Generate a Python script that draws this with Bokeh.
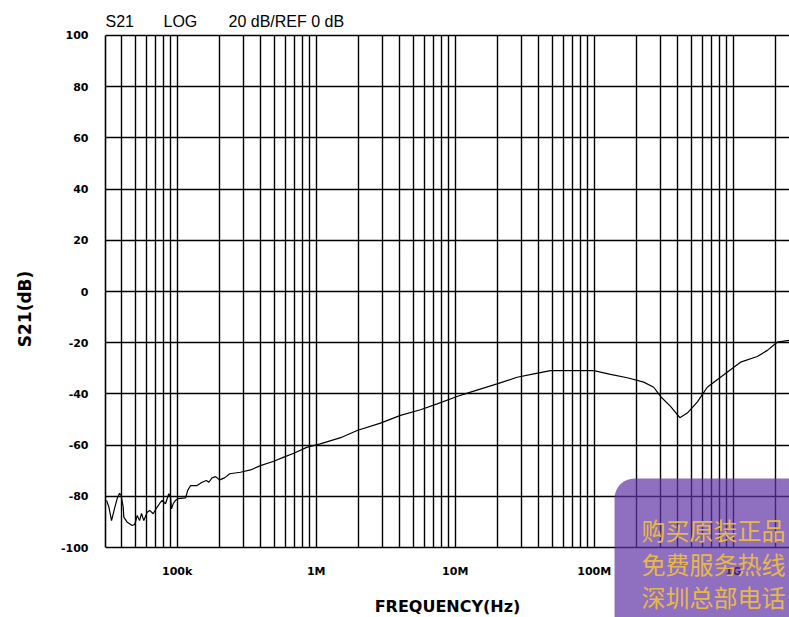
from bokeh.plotting import figure
from bokeh.models import FixedTicker, Label, Range1d
from bokeh.embed import file_html
from bokeh.resources import INLINE

# ---- data ----
freq_hz = [31e3, 32.2e3, 33.7e3, 35.4e3, 37.0e3, 38.5e3, 39.5e3, 40.9e3, 41.3e3, 43.7e3,
           47.5e3, 49.5e3, 51.6e3, 53.6e3, 55.4e3, 57.5e3, 60.8e3, 63.5e3, 67.2e3, 71.8e3,
           75.0e3, 78.0e3, 82.4e3, 87.0e3, 89.5e3, 91.0e3, 93.6e3, 97.2e3, 101e3, 115e3,
           119e3, 125e3, 139e3, 151e3, 162e3, 169e3, 178e3, 189e3, 202e3, 219e3,
           239e3, 285e3, 337e3, 397e3, 495e3, 585e3, 690e3, 862e3, 1.07e6, 1.50e6,
           1.97e6, 2.90e6, 4.04e6, 5.63e6, 7.42e6, 10.3e6, 12.9e6, 20.0e6, 27.9e6, 36.8e6,
           48.5e6, 99.3e6, 131e6, 173e6, 227e6, 268e6, 300e6, 354e6, 413e6, 467e6,
           551e6, 650e6, 810e6, 1.01e9, 1.13e9, 1.49e9, 1.76e9, 2.07e9, 2.54e9]
s21_db = [-81.6, -84.0, -89.5, -84.8, -80.9, -78.8, -79.7, -84.2, -88.1, -90.1,
          -91.4, -91.0, -87.5, -89.5, -86.7, -89.5, -86.2, -85.5, -86.8, -84.2,
          -82.7, -81.6, -82.9, -79.0, -80.3, -84.9, -82.9, -81.6, -80.9, -80.6,
          -77.7, -75.8, -75.8, -74.5, -73.8, -74.5, -72.8, -72.3, -73.6, -72.8,
          -71.2, -70.6, -69.7, -68.0, -66.3, -64.7, -63.2, -60.8, -59.5, -57.1,
          -54.3, -51.4, -48.4, -46.2, -43.9, -41.0, -39.3, -36.1, -33.5, -32.2,
          -30.9, -30.9, -32.4, -33.7, -35.4, -37.4, -41.0, -44.9, -49.3, -47.5,
          -43.2, -37.4, -33.5, -29.6, -27.6, -25.4, -23.0, -19.8, -19.1]

x_tick_values = [1e5, 1e6, 1e7, 1e8, 1e9]
x_tick_labels = ["100k", "1M", "10M", "100M", "1G"]
x_minor_mult = [2, 3, 4, 5, 6, 7, 8, 9]
x_decades = [1e4, 1e5, 1e6, 1e7, 1e8, 1e9]
y_tick_values = [-100, -80, -60, -40, -20, 0, 20, 40, 60, 80, 100]
y_tick_labels = ["-100", "-80", "-60", "-40", "-20", "0", "20", "40", "60", "80", "100"]
header_texts = ["S21", "LOG", "20 dB/REF 0 dB"]
watermark_lines = ["购买原装正品", "免费服务热线", "深圳总部电话"]

x_minor = [m * d for d in x_decades for m in x_minor_mult]

Y_MIN, Y_MAX = -100, 100
p = figure(width=789, height=617, x_axis_type="log",
           x_range=Range1d(30500, 2.54e9), y_range=Range1d(-127.34, 113.67),
           output_backend="svg", toolbar_location=None,
           min_border_left=105, min_border_right=0, min_border_top=0, min_border_bottom=0,
           background_fill_color="white", border_fill_color="white")
p.outline_line_color = None

xt = FixedTicker(ticks=x_tick_values, minor_ticks=x_minor)
yt = FixedTicker(ticks=y_tick_values, minor_ticks=[])
p.xaxis.ticker = xt
p.yaxis.ticker = yt
p.xgrid.ticker = xt
p.ygrid.ticker = yt
p.xaxis.major_label_overrides = {v: l for v, l in zip(x_tick_values, x_tick_labels)}
p.yaxis.major_label_overrides = {v: l for v, l in zip(y_tick_values, y_tick_labels)}

for g in (p.xgrid, p.ygrid):
    g.grid_line_color = "black"
    g.grid_line_width = 1.4
    g.grid_line_alpha = 1.0
p.xgrid.minor_grid_line_color = "black"
p.xgrid.minor_grid_line_width = 1.4
p.xgrid.cross_bounds = (Y_MIN, Y_MAX)

for ax in (p.xaxis, p.yaxis):
    ax.major_tick_line_color = None
    ax.minor_tick_line_color = None
    ax.major_label_text_font = "DejaVu Sans"
    ax.major_label_text_font_style = "bold"
    ax.major_label_text_font_size = "11px"
    ax.major_label_text_color = "black"
    ax.axis_label_text_font = "DejaVu Sans"
    ax.axis_label_text_font_style = "bold"
    ax.axis_label_text_color = "black"

# x axis drawn at the bottom edge of the grid (-100 dB)
p.xaxis.fixed_location = Y_MIN
p.xaxis.axis_line_color = None
p.xaxis.major_label_standoff = 11
p.xaxis.axis_label = "FREQUENCY(Hz)"
p.xaxis.axis_label_text_font_size = "16px"
p.xaxis.axis_label_standoff = 16

# y axis line forms the left border of the grid
p.yaxis.bounds = (Y_MIN, Y_MAX)
p.yaxis.axis_line_color = "black"
p.yaxis.axis_line_width = 1.6
p.yaxis.major_label_standoff = 11
p.yaxis.axis_label = "S21(dB)"
p.yaxis.axis_label_text_font_size = "17px"
p.yaxis.axis_label_standoff = 23

p.line(freq_hz, s21_db, line_color="black", line_width=1.2)

# header texts above the grid
header_x = [30500, 79.7e3, 234e3]
for t, hx in zip(header_texts, header_x):
    p.add_layout(Label(x=hx, y=105.5, text=t, text_baseline="middle", text_align="left",
                       text_font="Liberation Sans", text_font_size="16px", text_color="black"))

# watermark overlay
p.add_layout(Label(x=1.40e8, y=-73.0, anchor="top_left", text="\n".join(watermark_lines),
                   text_font="Noto Sans CJK SC", text_font_size="24px",
                   text_color="#e8b846", text_line_height=0.95,
                   background_fill_color="#5f33a5", background_fill_alpha=0.7,
                   border_radius=20,
                   padding={"left": 27, "right": 30, "top": 34, "bottom": 30}))

open("out.html", "w").write(file_html(p, INLINE))
